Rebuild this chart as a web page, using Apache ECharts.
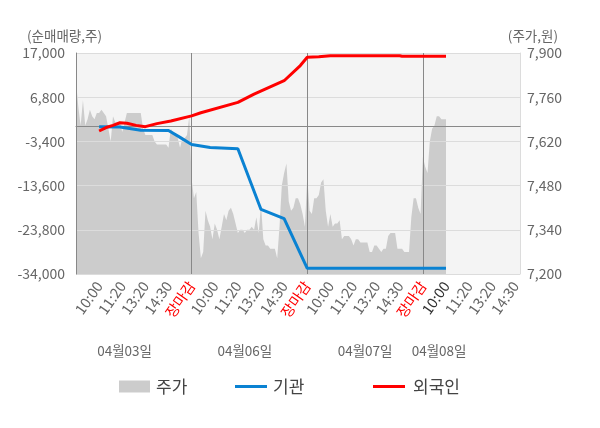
<!DOCTYPE html>
<html><head><meta charset="utf-8">
<script src="https://cdn.jsdelivr.net/npm/echarts@6/dist/echarts.min.js"></script>
<style>html,body{margin:0;padding:0;background:#fff}#c{width:600px;height:428px}</style>
</head><body><div id="c"></div>
<script>
// ---- data ----
const dayNames = ['04월03일', '04월06일', '04월07일', '04월08일'];
const timeLabels = ['10:00', '11:20', '13:20', '14:30'];
const closeLabel = '장마감';
const leftTicks = ['-34,000', '-23,800', '-13,600', '-3,400', '6,800', '17,000'];
const rightTicks = ['7,200', '7,340', '7,480', '7,620', '7,760', '7,900'];
const seriesNames = ['주가', '기관', '외국인'];

// stock price (원), one value per time step
const price = [
  7810, 7730, 7670, 7750, 7670, 7690, 7720, 7700, 7690, 7710,
  7710, 7720, 7710, 7700, 7660, 7620, 7700, 7680, 7680, 7680,
  7650, 7680, 7710, 7710, 7710, 7710, 7710, 7710, 7710, 7660,
  7640, 7640, 7640, 7640, 7620, 7610, 7610, 7610, 7610, 7610,
  7600, 7660, 7650, 7640, 7630, 7600, 7630, 7630, 7640, 7700,
  7500, 7440, 7460, 7330, 7250, 7270, 7400, 7370, 7350, 7310,
  7360, 7340, 7310, 7350, 7390, 7370, 7400, 7410, 7390, 7360,
  7330, 7340, 7340, 7330, 7340, 7340, 7350, 7340, 7380, 7330,
  7420, 7310, 7290, 7290, 7280, 7280, 7280, 7250, 7350, 7480,
  7520, 7550, 7430, 7400, 7410, 7440, 7440, 7420, 7390, 7350,
  7510, 7400, 7390, 7440, 7440, 7450, 7490, 7500, 7400, 7350,
  7390, 7350, 7360, 7360, 7370, 7310, 7320, 7320, 7320, 7310,
  7290, 7310, 7310, 7300, 7300, 7300, 7300, 7270, 7270, 7290,
  7290, 7280, 7270, 7280, 7280, 7320, 7330, 7330, 7330, 7280,
  7280, 7280, 7270, 7270, 7270, 7380, 7440, 7440, 7410, 7390,
  7570, 7540, 7520, 7620, 7660, 7670, 7700, 7700, 7690, 7690,
  7690
];
// 기관 net buying (주): [time step, value]
const instPts = [
  [10, 0], [19, -100], [28, -850], [40, -900], [45, -2470], [50, -4100],
  [58, -4800], [70, -5100], [80, -19100], [90, -21200], [100, -32700], [160, -32700]
];
// 외국인 net buying (주): [time step, value]
const forePts = [
  [10, -1000], [13, -200], [16, 300], [19, 900], [22, 800], [26, 300], [30, 0],
  [35, 700], [41, 1300], [50, 2500], [54, 3200], [70, 5600], [77, 7500],
  [90, 10600], [97, 14100], [100, 16000], [105, 16150], [110, 16370],
  [140, 16370], [141, 16240], [160, 16240]
];

// ---- categories (time steps) ----
const STEPS_PER_DAY = 50, STEPS_PER_LABEL = 10, N_CAT = 193;
const dayLabelAt = [21, 73, 125, 157];
const cats = [], dayCats = [];
for (let i = 0; i < N_CAT; i++) {
  const r = i % STEPS_PER_DAY;
  let lab = '';
  if (r === 0 && i > 0 && i < STEPS_PER_DAY * 3 + 1) lab = closeLabel;
  else if (r > 0 && r % STEPS_PER_LABEL === 0 && r / STEPS_PER_LABEL <= timeLabels.length) lab = timeLabels[r / STEPS_PER_LABEL - 1];
  cats.push(i + '|' + lab);
  const di = dayLabelAt.indexOf(i);
  dayCats.push(i + '|' + (di >= 0 ? dayNames[di] : ''));
}
const labOf = v => v.split('|')[1];
const FONT = '"Noto Sans CJK KR", "Noto Sans", sans-serif';

const chart = echarts.init(document.getElementById('c'), null, { renderer: 'canvas' });
chart.setOption({
  animation: false,
  textStyle: { fontFamily: FONT },
  title: [
    { text: '(순매매량,주)', left: 22, top: 24, textStyle: { fontSize: 13.5, fontWeight: 'normal', color: '#666', fontFamily: FONT } },
    { text: '(주가,원)', right: 37, top: 24, textStyle: { fontSize: 13.5, fontWeight: 'normal', color: '#666', fontFamily: FONT } }
  ],
  legend: [
    { data: [seriesNames[0]], left: 114, top: 373, icon: 'rect', itemWidth: 31, itemHeight: 12, textStyle: { fontSize: 17, color: '#444', fontFamily: FONT, padding: [0, 0, 0, 1] } },
    { data: [seriesNames[1]], left: 230, top: 373, icon: 'rect', itemWidth: 32, itemHeight: 3, textStyle: { fontSize: 17, color: '#444', fontFamily: FONT, padding: [0, 0, 0, 1] } },
    { data: [seriesNames[2]], left: 368, top: 373, icon: 'rect', itemWidth: 32, itemHeight: 3, textStyle: { fontSize: 17, color: '#444', fontFamily: FONT, padding: [0, 0, 0, 3] } }
  ],
  grid: { left: 76, right: 80, top: 53, bottom: 154, show: true, backgroundColor: '#f4f4f4', borderWidth: 0 },
  xAxis: [
    {
      type: 'category', data: cats, boundaryGap: false, z: 2,
      axisLine: { show: true, lineStyle: { color: '#888', width: 1 } },
      axisTick: { show: true, length: 5, interval: i => i % STEPS_PER_DAY === 0, lineStyle: { color: '#888' } },
      splitLine: { show: true, interval: i => i % STEPS_PER_DAY === 0 && i > 0 && i < N_CAT - 5, lineStyle: { color: '#888', width: 1 } },
      axisLabel: {
        interval: (i, v) => labOf(v) !== '', rotate: 55, margin: 9, fontSize: 14.5, fontFamily: FONT,
        formatter: v => labOf(v),
        color: v => labOf(v) === closeLabel ? '#ff0000' : (v.startsWith((STEPS_PER_DAY * 3 + STEPS_PER_LABEL) + '|') ? '#333' : '#666')
      }
    },
    {
      type: 'category', data: dayCats, boundaryGap: false, position: 'bottom', offset: 62,
      axisLine: { show: false }, axisTick: { show: false }, splitLine: { show: false },
      axisLabel: { interval: (i, v) => labOf(v) !== '', margin: 8, fontSize: 13.5, color: '#666', fontFamily: FONT, formatter: v => labOf(v) }
    }
  ],
  yAxis: [
    { type: 'value', min: -34000, max: 17000, show: false },
    { type: 'value', min: 7200, max: 7900, show: false },
    {
      type: 'value', position: 'left', min: 0, max: 5, interval: 1, z: 2,
      axisLine: { show: true, lineStyle: { color: '#888' } }, axisTick: { show: false },
      splitLine: { show: true, lineStyle: { color: '#dcdcdc', width: 1 } },
      axisLabel: { formatter: v => leftTicks[v], margin: 11, fontSize: 14, color: '#666', fontFamily: FONT }
    },
    {
      type: 'value', position: 'right', min: 0, max: 5, interval: 1, z: 2,
      axisLine: { show: true, lineStyle: { color: '#dcdcdc' } }, axisTick: { show: false },
      splitLine: { show: false },
      axisLabel: { formatter: v => rightTicks[v], margin: 7, fontSize: 14, color: '#666', fontFamily: FONT }
    }
  ],
  series: [
    {
      name: seriesNames[0], type: 'line', xAxisIndex: 0, yAxisIndex: 1, z: 1,
      data: price, symbol: 'none', showSymbol: false,
      itemStyle: { color: '#cccccc' }, lineStyle: { width: 0, color: '#cccccc' },
      areaStyle: { color: '#cccccc', opacity: 1, origin: 'start' }
    },
    {
      name: seriesNames[1], type: 'line', xAxisIndex: 0, yAxisIndex: 0, z: 4,
      data: instPts, symbol: 'none', showSymbol: false,
      itemStyle: { color: '#0a82d2' }, lineStyle: { width: 3, color: '#0a82d2' },
      markLine: {
        silent: true, symbol: 'none', z: 3, label: { show: false },
        lineStyle: { color: '#888', width: 1, type: 'solid' },
        data: [{ yAxis: 0 }]
      }
    },
    {
      name: seriesNames[2], type: 'line', xAxisIndex: 0, yAxisIndex: 0, z: 4,
      data: forePts, symbol: 'none', showSymbol: false,
      itemStyle: { color: '#ff0000' }, lineStyle: { width: 3, color: '#ff0000' }
    }
  ]
});
</script></body></html>
